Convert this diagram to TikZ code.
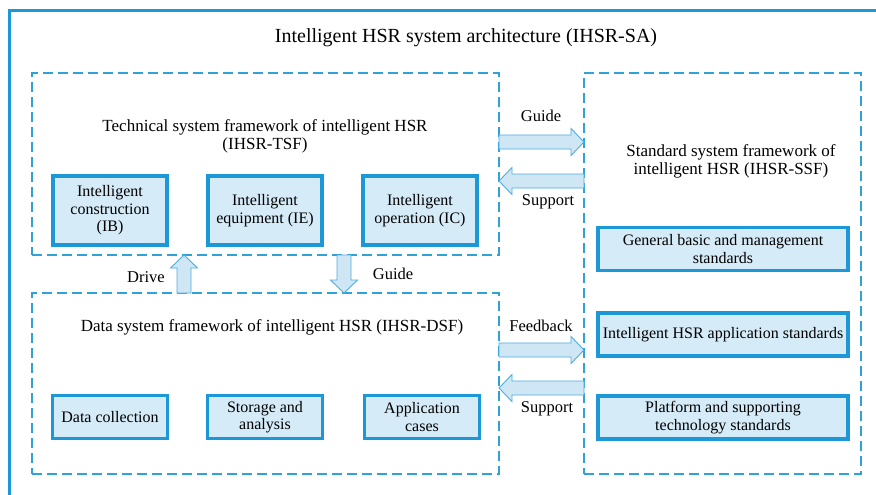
\documentclass[tikz,border=0pt]{standalone}
\usepackage{fontspec}
\newfontfamily\serf{Liberation Serif}
\usetikzlibrary{calc}
\definecolor{frameblue}{HTML}{1B98D5}
\definecolor{dashblue}{HTML}{2FA3D8}
\definecolor{boxfill}{HTML}{D5EBF8}
\definecolor{arrowfill}{HTML}{CFE6F5}
\definecolor{arrowline}{HTML}{4FAEE0}
\tikzset{
  dashframe/.style={draw=dashblue, line width=1.4pt, dash pattern=on 10pt off 5pt,
    inner sep=0pt, outer sep=0pt, anchor=north west},
  itembox/.style={draw=frameblue, line width=3.2pt, fill=boxfill, inner sep=0pt,
    outer sep=0pt, align=center, font=\serf\fontsize{16}{17.5}\selectfont},
  lbl/.style={font=\serf\fontsize{16.5}{18}\selectfont, inner sep=0pt},
  ftitle/.style={font=\serf\fontsize{17}{18}\selectfont, align=center, inner sep=0pt},
  blockarrow/.style={draw=arrowline, fill=arrowfill, line width=0.9pt, line join=miter,
    to path={($(\tikztostart)!7pt!90:(\tikztotarget)$)
      -- ($(\tikztotarget)!13pt!(\tikztostart)!7pt!-90:(\tikztostart)$)
      -- ($(\tikztotarget)!13pt!(\tikztostart)!13.5pt!-90:(\tikztostart)$)
      -- (\tikztotarget)
      -- ($(\tikztotarget)!13pt!(\tikztostart)!13.5pt!90:(\tikztostart)$)
      -- ($(\tikztotarget)!13pt!(\tikztostart)!7pt!90:(\tikztostart)$)
      -- ($(\tikztostart)!7pt!-90:(\tikztotarget)$) -- cycle}}
}
\begin{document}
\begin{tikzpicture}[x=1pt, y=-1pt]
\useasboundingbox (0,0) rectangle (876,495);
\fill[white] (0,0) rectangle (876,495);
\begin{scope}
  \clip (0,0) rectangle (876,495);
  \draw[frameblue, line width=3pt] (9,11) rectangle (900,520);
\end{scope}

\node[font=\serf\fontsize{20}{22}\selectfont, inner sep=0pt] (main) at (466,38) {Intelligent HSR system architecture (IHSR-SA)};

% frames
\node[dashframe, minimum width=467pt, minimum height=182pt] (tsf) at (32,73) {};
\node[dashframe, minimum width=467pt, minimum height=181pt] (dsf) at (32,293) {};
\node[dashframe, minimum width=277pt, minimum height=401pt] (ssf) at (584,73) {};

% frame titles
\node[ftitle] (tsft) at (265,136) {Technical system framework of intelligent HSR\\(IHSR-TSF)};
\node[ftitle] (dsft) at (272,327) {Data system framework of intelligent HSR (IHSR-DSF)};
\node[ftitle] (ssft) at (731,161) {Standard system framework of\\intelligent HSR (IHSR-SSF)};

% TSF items
\node[itembox, minimum width=114pt, minimum height=69pt] (ib) at (110,210.5) {Intelligent\\construction\\(IB)};
\node[itembox, minimum width=114pt, minimum height=69pt] (ie) at (265,210.5) {Intelligent\\equipment (IE)};
\node[itembox, minimum width=114pt, minimum height=69pt] (ic) at (420,210.5) {Intelligent\\operation (IC)};

% DSF items
\node[itembox, minimum width=115pt, minimum height=43pt] (dc) at (110,417) {Data collection};
\node[itembox, minimum width=115pt, minimum height=43pt] (sa) at (265,417) {Storage and\\analysis};
\node[itembox, minimum width=115pt, minimum height=43pt] (ac) at (422,417) {Application\\cases};

% SSF items
\node[itembox, minimum width=250pt, minimum height=43pt] (s1) at (723,249) {General basic and management\\standards};
\node[itembox, minimum width=250pt, minimum height=43pt] (s2) at (723,334.5) {Intelligent HSR application standards};
\node[itembox, minimum width=250pt, minimum height=43pt] (s3) at (723,417.5) {Platform and supporting\\technology standards};

% arrow end points
\coordinate (a1s) at (tsf.east |- 0,142);
\coordinate (a1e) at (ssf.west |- 0,142);
\coordinate (a2s) at (ssf.west |- 0,181);
\coordinate (a2e) at (tsf.east |- 0,181);
\coordinate (a3s) at (dsf.east |- 0,350);
\coordinate (a3e) at (ssf.west |- 0,350);
\coordinate (a4s) at (ssf.west |- 0,388);
\coordinate (a4e) at (dsf.east |- 0,388);
\coordinate (a5s) at (dsf.north -| 184,0);
\coordinate (a5e) at (tsf.south -| 184,0);
\coordinate (a6s) at (tsf.south -| 344,0);
\coordinate (a6e) at (dsf.north -| 344,0);

\draw[blockarrow] (a1s) to (a1e);
\draw[blockarrow] (a2s) to (a2e);
\draw[blockarrow] (a3s) to (a3e);
\draw[blockarrow] (a4s) to (a4e);
\draw[blockarrow] (a5s) to (a5e);
\draw[blockarrow] (a6s) to (a6e);

% labels
\node[lbl] (lg1) at (541,116) {Guide};
\node[lbl] (ls1) at (548,202) {Support};
\node[lbl] (lfb) at (541,326) {Feedback};
\node[lbl] (ls2) at (547,409) {Support};
\node[lbl] (ldr) at (146,277) {Drive};
\node[lbl] (lg2) at (393,274) {Guide};
\end{tikzpicture}
\end{document}
